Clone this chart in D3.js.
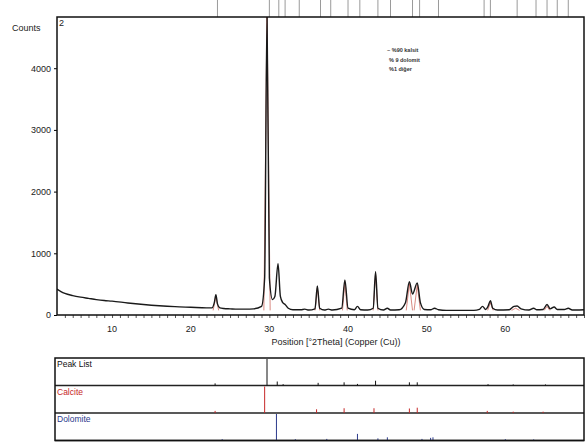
<!DOCTYPE html>
<html>
<head>
<meta charset="utf-8">
<script src="https://cdn.jsdelivr.net/npm/d3@7"></script>
<style>
  body { margin: 0; background: #fff; }
  text { font-family: "Liberation Sans", Arial, sans-serif; }
</style>
</head>
<body>
<div id="chart"></div>
<script>
// measured pattern (2theta, counts)
var profileTheta = [3, 3.5, 4, 5, 6, 7, 8, 9, 10, 12, 14, 16, 18, 20, 22, 22.7, 23.0, 23.2, 23.4, 23.7, 24.2, 25, 26, 27, 28, 29.0,
	29.4, 29.7, 30.0, 30.4, 30.7, 31.1, 31.4, 31.7, 32.0, 32.4, 33, 34, 34.5, 35, 35.8, 36.1, 36.4, 37, 37.5, 38, 39.2, 39.6, 40.0,
	40.8, 41.2, 41.6, 42.5, 43.2, 43.5, 43.8, 44.5, 45.0, 45.4, 46.5, 47.3, 47.8, 48.2, 48.8, 49.2, 49.7, 50.5, 51.0, 51.5, 52.5,
	54, 56, 56.7, 57.1, 57.5, 57.8, 58.1, 58.4, 59, 60.5, 61.1, 61.5, 62, 63, 63.6, 64, 64.8, 65.3, 65.7, 66.2, 66.6, 67.5, 68, 68.5, 69, 70];
var profileCounts = [420, 380, 350, 315, 290, 270, 250, 235, 225, 195, 170, 150, 135, 125, 115, 115, 200, 330, 180, 115, 105, 100, 95, 95, 100, 140,
	600, 4900, 600, 250, 300, 830, 300, 200, 170, 110, 85, 85, 95, 80, 100, 470, 110, 80, 95, 80, 110, 570, 110,
	85, 140, 85, 80, 110, 700, 110, 80, 110, 80, 85, 200, 540, 340, 520, 200, 90, 85, 110, 85, 75,
	75, 75, 90, 140, 90, 140, 230, 110, 80, 85, 140, 145, 100, 80, 110, 85, 90, 170, 100, 130, 90, 90, 110, 80, 80, 85];

// fitted calcite peaks drawn in red
var fitTheta = [23.2, 29.7, 36.1, 39.6, 43.5, 47.8, 48.8, 58.1, 61.3, 65.3];
var fitCounts = [300, 4900, 440, 540, 670, 510, 490, 200, 110, 140];

// peak list markers above the plot
var markerTheta = [23.4, 30.0, 31.2, 32.0, 33.8, 36.5, 37.8, 40.0, 41.5, 43.8, 45.4, 48.2, 49.1, 51.5, 57.3, 58.1, 61.5, 63.9, 65.3, 66.6, 68.0];

// stick patterns (relative intensity %)
var peakListTheta = [23.1, 29.7, 31.0, 31.75, 36.2, 39.5, 41.2, 43.5, 47.8, 48.8, 57.8, 61.0, 65.1];
var peakListInt = [8, 100, 15, 5, 10, 12, 6, 18, 12, 12, 5, 4, 4];
var calciteTheta = [23.1, 29.4, 36.0, 39.5, 43.3, 47.8, 48.8, 57.7, 61.0, 64.8];
var calciteInt = [8, 100, 14, 18, 18, 17, 20, 8, 5, 5];
var dolomiteTheta = [24.0, 30.9, 33.3, 37.3, 41.2, 43.8, 45.0, 49.4, 50.5, 50.8, 60.0, 63.6];
var dolomiteInt = [5, 100, 5, 6, 25, 8, 12, 6, 10, 12, 5, 4];

var xTicks = [10, 20, 30, 40, 50, 60];
var yTicks = [0, 1000, 2000, 3000, 4000];
var legendLines = ["~ %90 kalsit", "% 9 dolomit", "%1 diğer"];

var chart_width = 586, chart_height = 445;
var pLeft = 57, pRight = 584, pTop = 17, pBottom = 315;

var svg = d3.select("#chart")
	.append("svg")
		.attr("width", chart_width)
		.attr("height", chart_height);

var x = d3.scaleLinear().domain([3, 70]).range([pLeft, pRight]);
var y = d3.scaleLinear().domain([0, 4830]).range([pBottom, pTop]);

svg.append("clipPath").attr("id", "clip")
	.append("rect")
	.attr("x", pLeft).attr("y", pTop)
	.attr("width", pRight - pLeft).attr("height", pBottom - pTop);

// peak list markers
svg.selectAll("line.marker")
	.data(markerTheta)
	.enter()
	.append("line")
	.attr("class", "marker")
	.attr("x1", function(d) { return x(d); })
	.attr("x2", function(d) { return x(d); })
	.attr("y1", 0)
	.attr("y2", pTop)
	.attr("stroke", "#9a9a9a")
	.attr("stroke-width", 1);

var plot = svg.append("g").attr("clip-path", "url(#clip)");

// red fitted peaks
var fitW = [0.35, 0.4, 0.3, 0.3, 0.3, 0.4, 0.4, 0.35, 0.5, 0.35];
fitTheta.forEach(function(t, i) {
	var pts = [[t - fitW[i], 75], [t, fitCounts[i]], [t + fitW[i], 75]];
	plot.append("path")
		.attr("d", d3.line().x(function(d) { return x(d[0]); }).y(function(d) { return y(d[1]); })(pts))
		.attr("fill", "none")
		.attr("stroke", "#c0392b")
		.attr("stroke-opacity", 0.75)
		.attr("stroke-width", 0.8);
});

var profile = profileTheta.map(function(t, i) { return [t, profileCounts[i]]; });
plot.append("path")
	.datum(profile)
	.attr("d", d3.line()
		.x(function(d) { return x(d[0]); })
		.y(function(d) { return y(d[1]); })
		.curve(d3.curveMonotoneX))
	.attr("fill", "none")
	.attr("stroke", "#1a1a1a")
	.attr("stroke-width", 1.4);

// axes
var xAxis = svg.append("g")
	.attr("transform", "translate(0," + pBottom + ")")
	.call(d3.axisBottom(x).tickValues(d3.range(4, 71)).tickSize(3).tickFormat(""));
xAxis.select(".domain").remove();
xAxis.selectAll("line").attr("stroke", "#555");

svg.selectAll("text.xl")
	.data(xTicks)
	.enter()
	.append("text")
	.attr("class", "xl")
	.attr("x", function(d) { return x(d); })
	.attr("y", pBottom + 17)
	.attr("text-anchor", "middle")
	.attr("font-size", 9)
	.attr("fill", "#222")
	.text(function(d) { return d; });

var yAxis = svg.append("g")
	.attr("transform", "translate(" + pLeft + ",0)")
	.call(d3.axisLeft(y).tickValues(yTicks).tickSize(3).tickPadding(3).tickFormat(d3.format("d")));
yAxis.select(".domain").remove();
yAxis.selectAll("text").attr("font-size", 9).attr("fill", "#222").attr("font-family", "Liberation Sans, Arial, sans-serif");

svg.append("rect")
	.attr("x", pLeft).attr("y", pTop)
	.attr("width", pRight - pLeft).attr("height", pBottom - pTop)
	.attr("fill", "none")
	.attr("stroke", "#111")
	.attr("stroke-width", 1.5);

svg.append("text").attr("x", 12).attr("y", 31).attr("font-size", 9).attr("fill", "#222").text("Counts");
svg.append("text").attr("x", pLeft + 2).attr("y", pTop + 9).attr("font-size", 9).attr("fill", "#222").text("2");

svg.selectAll("text.leg")
	.data(legendLines)
	.enter()
	.append("text")
	.attr("class", "leg")
	.attr("x", function(d, i) { return i == 0 ? 387 : 389; })
	.attr("y", function(d, i) { return 52 + i * 9.5; })
	.attr("font-size", 5.5)
	.attr("font-weight", "bold")
	.attr("fill", "#333")
	.text(function(d) { return d; });

svg.append("text")
	.attr("x", 336).attr("y", 345)
	.attr("text-anchor", "middle")
	.attr("font-size", 9)
	.attr("fill", "#222")
	.text("Position [°2Theta] (Copper (Cu))");

// lower stick panel
var panelTop = 358, rowH = 27.5;
var rows = [
	{ name: "Peak List", color: "#111", theta: peakListTheta, inten: peakListInt },
	{ name: "Calcite", color: "#c62828", theta: calciteTheta, inten: calciteInt },
	{ name: "Dolomite", color: "#2b3a8c", theta: dolomiteTheta, inten: dolomiteInt }
];
var h = d3.scaleLinear().domain([0, 100]).range([0, rowH - 1]);

rows.forEach(function(r, i) {
	var base = panelTop + (i + 1) * rowH;
	svg.append("line")
		.attr("x1", 55).attr("x2", pRight)
		.attr("y1", base).attr("y2", base)
		.attr("stroke", "#222").attr("stroke-width", 1.3);
	svg.selectAll("line.s" + i)
		.data(r.theta)
		.enter()
		.append("line")
		.attr("class", "s" + i)
		.attr("x1", function(d) { return x(d); })
		.attr("x2", function(d) { return x(d); })
		.attr("y1", base)
		.attr("y2", function(d, j) { return base - h(r.inten[j]); })
		.attr("stroke", r.color)
		.attr("stroke-width", 1);
	svg.append("text")
		.attr("x", 57).attr("y", panelTop + i * rowH + 9)
		.attr("font-size", 8.5)
		.attr("fill", r.color)
		.text(r.name);
});

svg.append("rect")
	.attr("x", 55).attr("y", panelTop)
	.attr("width", pRight - 55).attr("height", rowH * 3)
	.attr("fill", "none")
	.attr("stroke", "#111")
	.attr("stroke-width", 1.5);
</script>
</body>
</html>
